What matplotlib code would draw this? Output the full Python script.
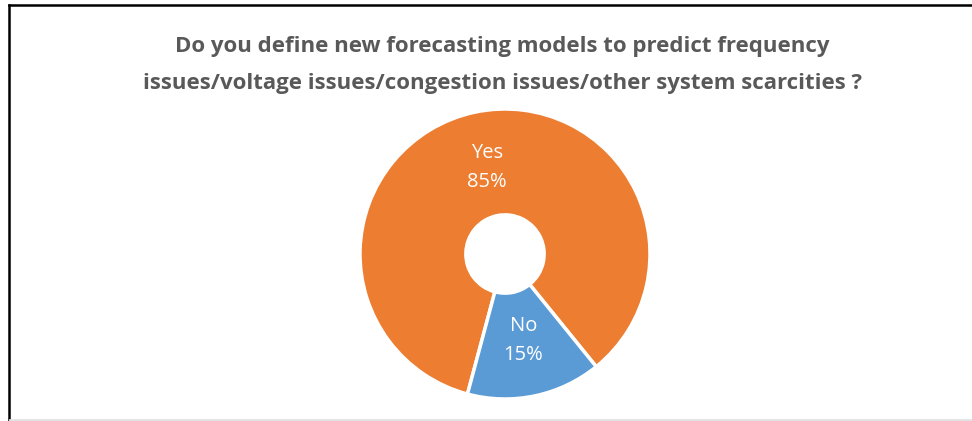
import numpy as np
import matplotlib.pyplot as plt
from matplotlib.lines import Line2D

# survey answers
labels = ["Yes", "No"]
shares = [85, 15]
colors = ["#ED7D31", "#5B9BD5"]
title = ("Do you define new forecasting models to predict frequency\n"
         "issues/voltage issues/congestion issues/other system scarcities ?")

W, H = 972, 421
fig = plt.figure(figsize=(W / 100, H / 100), dpi=100)
fig.patch.set_facecolor("white")

# frame lines (top and left) like the screenshot, faint gray at the bottom
fig.add_artist(Line2D([8.5 / W, 1], [1 - 4.5 / H, 1 - 4.5 / H], color="black", lw=1.8))
fig.add_artist(Line2D([8.5 / W, 8.5 / W], [0, 1 - 4.5 / H], color="black", lw=1.8))
fig.add_artist(Line2D([10 / W, 1], [1.5 / H, 1.5 / H], color="#e2e2e2", lw=2))

fig.text(502 / W, 1 - 65 / H, title, ha="center", va="center", fontsize=16,
         fontweight="bold", color="#595959", family="Open Sans", linespacing=2.0)

# donut, centre at (505, 254) px, outer radius 145 px
ax = fig.add_axes([360 / W, (H - 254 - 145) / H, 290 / W, 290 / H])
wedges, _ = ax.pie(shares, colors=colors, startangle=255, counterclock=False,
                   radius=1, wedgeprops=dict(width=1 - 0.27, edgecolor="white", linewidth=2.5))
ax.set_xlim(-1, 1)
ax.set_ylim(-1, 1)
ax.set_aspect("equal")
ax.axis("off")

for w, lab, s in zip(wedges, labels, shares):
    mid = np.deg2rad((w.theta1 + w.theta2) / 2)
    r = 0.61
    ax.text(r * np.cos(mid), r * np.sin(mid), f"{lab}\n{s}%", ha="center", va="center",
            color="white", fontsize=14.5, family="Open Sans", linespacing=1.65)

fig.savefig("out.png", dpi=100)
